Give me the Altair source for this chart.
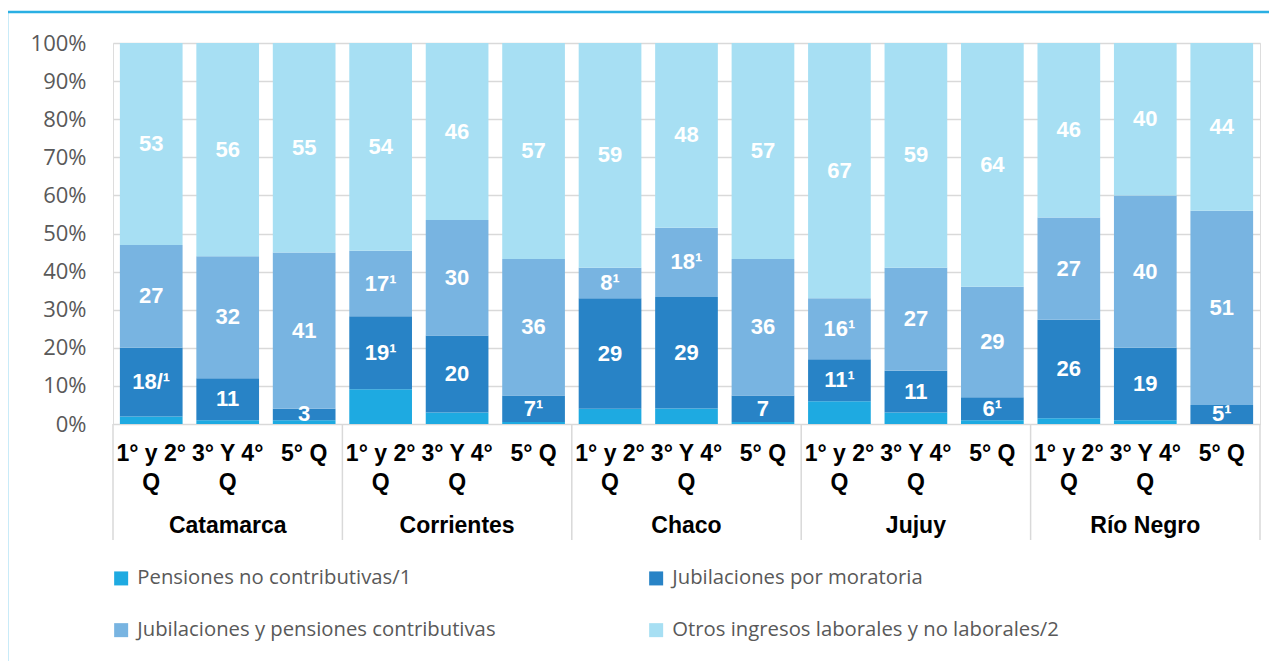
import altair as alt
import pandas as pd

provinces = ["Catamarca", "Corrientes", "Chaco", "Jujuy", "Río Negro"]
quarters = ["1° y 2° Q", "3° Y 4° Q", "5° Q"]
quarter_lines = ["1° y 2°\nQ", "3° Y 4°\nQ", "5° Q"]

series = [
    "Pensiones no contributivas/1",
    "Jubilaciones por moratoria",
    "Jubilaciones y pensiones contributivas",
    "Otros ingresos laborales y no laborales/2",
]
colors = ["#1eaae1", "#2883c6", "#78b4e1", "#a7dff3"]

# values per bar (province x quarter), in %
pensiones = [2, 1, 1, 9, 3, 0.5, 4, 4, 0.5, 6, 3, 1, 1.5, 1, 0]
moratoria = [18, 11, 3, 19, 20, 7, 29, 29, 7, 11, 11, 6, 26, 19, 5]
contributivas = [27, 32, 41, 17, 30, 36, 8, 18, 36, 16, 27, 29, 27, 40, 51]
otros = [53, 56, 55, 54, 46, 57, 59, 48, 57, 67, 59, 64, 46, 40, 44]

lab_moratoria = ["18/¹", "11", "3", "19¹", "20", "7¹", "29", "29", "7", "11¹", "11", "6¹", "26", "19", "5¹"]
lab_contributivas = ["27", "32", "41", "17¹", "30", "36", "8¹", "18¹", "36", "16¹", "27", "29", "27", "40", "51"]
lab_otros = ["53", "56", "55", "54", "46", "57", "59", "48", "57", "67", "59", "64", "46", "40", "44"]

y_ticks = [0, 0.1, 0.2, 0.3, 0.4, 0.5, 0.6, 0.7, 0.8, 0.9, 1.0]

W, H = 1147, 381

rows, keys, qrows, prow, seps = [], [], [], [], []
for i, p in enumerate(provinces):
    for j, q in enumerate(quarters):
        k = i * 3 + j
        key = f"{p} | {q}"
        keys.append(key)
        qrows.append(dict(key=key, txt=quarter_lines[j]))
        if j == 1:
            prow.append(dict(key=key, txt=p))
        if j == 0:
            seps.append(dict(key=key))
        vals = [pensiones[k], moratoria[k], contributivas[k], otros[k]]
        labs = ["", lab_moratoria[k], lab_contributivas[k], lab_otros[k]]
        tot = sum(vals)
        cum = 0.0
        for s, v, lab in zip(series, vals, labs):
            y0 = cum / tot
            cum += v
            y1 = cum / tot
            rows.append(dict(key=key, serie=s, y0=y0, y1=y1, mid=(y0 + y1) / 2, label=lab))

df = pd.DataFrame(rows)
dq = pd.DataFrame(qrows)
dp = pd.DataFrame(prow)
dsep = pd.DataFrame(seps)
dlast = pd.DataFrame([dict(key=keys[-1])])

pad_in, pad_out = 0.18, 0.09
step = W / len(keys)
xscale = alt.Scale(domain=keys, paddingInner=pad_in, paddingOuter=pad_out)
yscale = alt.Scale(domain=[0, 1], nice=False)
X = alt.X("key:N", scale=xscale, axis=None, sort=keys)

yaxis = alt.Axis(
    format=".0%",
    values=y_ticks,
    grid=True,
    gridColor="#d9d9d9",
    gridWidth=1.5,
    domain=False,
    ticks=False,
    labelFont="Open Sans",
    labelFontSize=22,
    labelColor="#595959",
    labelPadding=27,
    labelOverlap=False,
    labelBound=False,
    labelFlush=False,
    title=None,
)

border = alt.Chart(pd.DataFrame([{"a": 1}])).mark_rect(
    fillOpacity=0, stroke="#2aafe3", strokeWidth=2.5
).encode(
    x=alt.value(-106), x2=alt.value(1300), y=alt.value(-31), y2=alt.value(800)
)

bars = alt.Chart(df).mark_bar().encode(
    x=X,
    y=alt.Y("y1:Q", scale=yscale, axis=yaxis),
    y2="y0:Q",
    color=alt.Color(
        "serie:N",
        scale=alt.Scale(domain=series, range=colors),
        legend=alt.Legend(
            title=None,
            orient="none",
            legendX=-2,
            legendY=525,
            padding=0,
            columns=2,
            direction="horizontal",
            symbolType="square",
            symbolSize=196,
            symbolStrokeWidth=0,
            labelFont="Open Sans",
            labelFontSize=20.3,
            labelColor="#595959",
            labelOffset=6,
            labelLimit=600,
            columnPadding=150,
            rowPadding=31,
        ),
    ),
)

labels = alt.Chart(df[df["label"] != ""]).mark_text(
    font="Liberation Sans", fontWeight="bold", fontSize=22, color="white", baseline="middle"
).encode(
    x=X,
    y=alt.Y("mid:Q", scale=yscale, axis=yaxis),
    text="label:N",
)

qtext = alt.Chart(dq).mark_text(
    font="Liberation Sans", fontWeight="bold", fontSize=23, color="black",
    baseline="top", lineBreak="\n", lineHeight=29
).encode(x=X, y=alt.value(H + 19), text="txt:N")

ptext = alt.Chart(dp).mark_text(
    font="Liberation Sans", fontWeight="bold", fontSize=23, color="black", baseline="middle"
).encode(x=X, y=alt.value(H + 102), text="txt:N")

seprule = alt.Chart(dsep).mark_rule(color="#d9d9d9", strokeWidth=1.5, xOffset=-pad_out * step).encode(
    x=alt.X("key:N", scale=xscale, axis=None, sort=keys, bandPosition=0),
    y=alt.value(H), y2=alt.value(H + 116),
)
lastrule = alt.Chart(dlast).mark_rule(color="#d9d9d9", strokeWidth=1.5, xOffset=pad_out * step).encode(
    x=alt.X("key:N", scale=xscale, axis=None, sort=keys, bandPosition=1),
    y=alt.value(H), y2=alt.value(H + 116),
)

chart = alt.layer(border, bars, labels, seprule, lastrule, qtext, ptext).properties(
    width=W,
    height=H,
    autosize=alt.AutoSizeParams(type="none"),
    padding={"left": 105, "top": 35, "right": 9, "bottom": 240},
).configure_view(stroke=None).configure(background="white")

chart.save("out.html", embed_options={"renderer": "svg", "actions": False})
